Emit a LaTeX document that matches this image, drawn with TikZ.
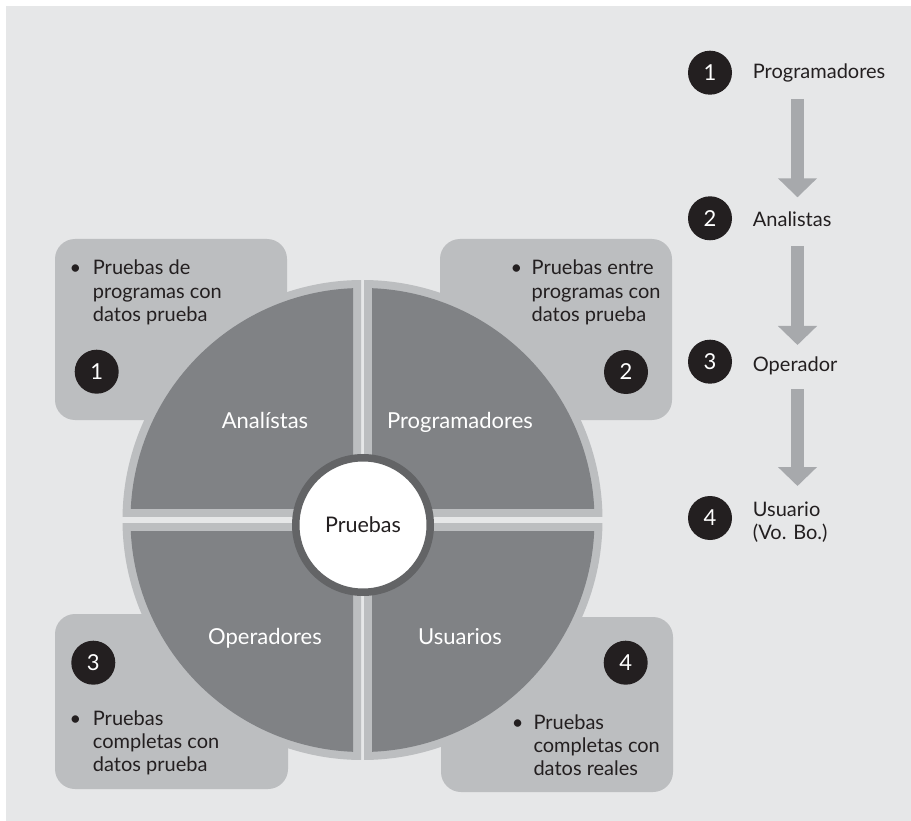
\documentclass[tikz,border=0pt]{standalone}
\usepackage{fontspec}
\setmainfont{Lato}
\usetikzlibrary{arrows.meta}
\definecolor{bgc}{HTML}{E6E7E8}
\definecolor{lightc}{HTML}{BCBEC0}
\definecolor{darkq}{HTML}{808285}
\definecolor{ringdark}{HTML}{636466}
\definecolor{ink}{HTML}{231F20}
\definecolor{arrowc}{HTML}{A7A9AC}
\begin{document}
\begin{tikzpicture}[x=1pt,y=-1pt,
  txt/.style={font=\fontsize{20}{24}\selectfont, text=ink, inner sep=0pt, anchor=base west},
  bul/.style={font=\fontsize{20}{24}\selectfont, text=ink, inner sep=0pt, anchor=base},
  qlab/.style={font=\fontsize{22}{26}\selectfont, text=white, inner sep=0pt, anchor=base},
  num/.style={circle, fill=ink, minimum size=44pt, inner sep=0pt, text=white, font=\fontsize{22}{26}\selectfont},
  boxc/.style={fill=lightc, rounded corners=20pt},
  flow/.style={draw=arrowc, line width=13pt, -{Triangle[width=38pt,length=19pt]}},
]
\useasboundingbox (0,0) rectangle (911,821);
\fill[bgc] (6,6) rectangle (911,821);

% corner boxes
\fill[boxc] (55,239) rectangle (287,420);
\fill[boxc] (440,239) rectangle (672,420);
\fill[boxc] (55,614) rectangle (288,789);
\fill[boxc] (441,617) rectangle (673,792);

% quadrants
\begin{scope}\clip (0,0) rectangle (361,516.7); \fill[lightc] (362.5,520) circle[radius=240]; \end{scope}
\begin{scope}\clip (0,0) rectangle (353,508.7); \fill[darkq] (362.5,520) circle[radius=232]; \end{scope}
\begin{scope}\clip (364,0) rectangle (911,516.7); \fill[lightc] (362.5,520) circle[radius=240]; \end{scope}
\begin{scope}\clip (372,0) rectangle (911,508.7); \fill[darkq] (362.5,520) circle[radius=232]; \end{scope}
\begin{scope}\clip (0,523.3) rectangle (361,821); \fill[lightc] (362.5,520) circle[radius=240]; \end{scope}
\begin{scope}\clip (0,531.3) rectangle (353,821); \fill[darkq] (362.5,520) circle[radius=232]; \end{scope}
\begin{scope}\clip (364,523.3) rectangle (911,821); \fill[lightc] (362.5,520) circle[radius=240]; \end{scope}
\begin{scope}\clip (372,531.3) rectangle (911,821); \fill[darkq] (362.5,520) circle[radius=232]; \end{scope}

% quadrant labels
\node[qlab] (qa) at (265,428) {Analístas};
\node[qlab] (qp) at (460,428) {Programadores};
\node[qlab] (qo) at (265,644) {Operadores};
\node[qlab] (qu) at (460,644) {Usuarios};

% center
\node[circle, fill=white, draw=ringdark, line width=7.5pt, minimum size=134.5pt, inner sep=0pt,
      font=\fontsize{21.5}{26}\selectfont, text=ink] (pr) at (363,525) {Pruebas};

% box contents
\node[bul] (b1) at (75.5,275) {•};
\node[txt] (t1a) at (92.7,275) {Pruebas de};
\node[txt] (t1b) at (92.7,298.3) {programas con};
\node[txt] (t1c) at (92.7,321.7) {datos prueba};
\node[num] (c1) at (96.7,371.7) {1};

\node[bul] (b2) at (516.5,275) {•};
\node[txt] (t2a) at (531.5,275) {Pruebas entre};
\node[txt] (t2b) at (531.5,298.3) {programas con};
\node[txt] (t2c) at (531.5,321.7) {datos prueba};
\node[num] (c2) at (626,372) {2};

\node[num] (c3) at (93.3,662.7) {3};
\node[bul] (b3) at (75.5,725) {•};
\node[txt] (t3a) at (92.7,725) {Pruebas};
\node[txt] (t3b) at (92.7,748.3) {completas con};
\node[txt] (t3c) at (92.7,771.7) {datos prueba};

\node[num] (c4) at (625.7,662.7) {4};
\node[bul] (b4) at (517.7,729) {•};
\node[txt] (t4a) at (533.3,729) {Pruebas};
\node[txt] (t4b) at (533.3,752.3) {completas con};
\node[txt] (t4c) at (533.3,775.7) {datos reales};

% right list
\node[num] (l1) at (710,72.7) {1};
\node[txt] (lt1) at (752.7,78.3) {Programadores};
\node[num] (l2) at (710,218.3) {2};
\node[txt] (lt2) at (752.7,226.7) {Analistas};
\node[num] (l3) at (710,361.7) {3};
\node[txt] (lt3) at (752.7,371.7) {Operador};
\node[num] (l4) at (710,518) {4};
\node[txt] (lt4a) at (752.7,516) {Usuario};
\node[txt] (lt4b) at (752.7,539) {(Vo. Bo.)};

\coordinate (a1s) at (797.5,99);  \coordinate (a1e) at (797.5,197.3);
\coordinate (a2s) at (797.5,246); \coordinate (a2e) at (797.5,345);
\coordinate (a3s) at (797.5,389); \coordinate (a3e) at (797.5,486);
\draw[flow] (a1s) -- (a1e);
\draw[flow] (a2s) -- (a2e);
\draw[flow] (a3s) -- (a3e);
\end{tikzpicture}
\end{document}
